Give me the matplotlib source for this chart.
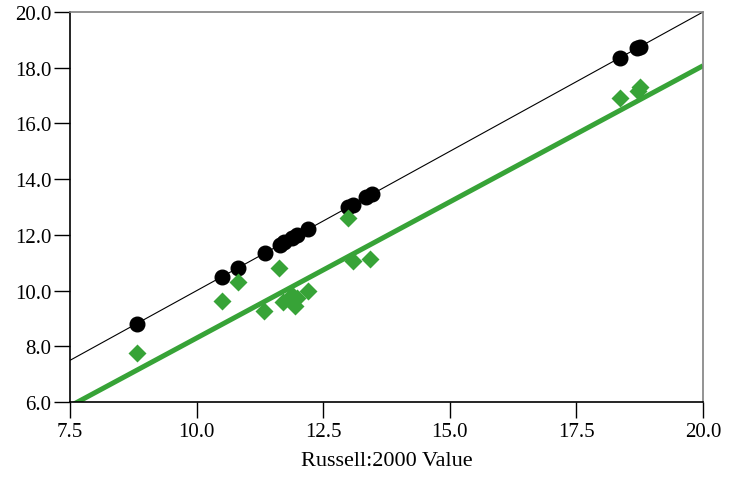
import numpy as np
import matplotlib
matplotlib.use('Agg')
import matplotlib.pyplot as plt

plt.rcParams['font.family'] = ['Liberation Serif', 'DejaVu Serif']
plt.rcParams['font.size'] = 15

# %% data
russell = [8.82, 10.50, 10.82, 11.35, 11.65, 11.73, 11.88, 11.98, 12.20,
           12.99, 13.09, 13.35, 13.46, 18.36, 18.70, 18.76]
model_x = [8.82, 10.50, 10.82, 11.33, 11.62, 11.70, 11.88, 11.98, 11.94,
           12.20, 12.99, 13.08, 13.42, 18.36, 18.72, 18.76]
model_y = [7.75, 9.64, 10.32, 9.26, 10.80, 9.58, 9.86, 9.72, 9.46,
           10.00, 12.60, 11.06, 11.12, 16.90, 17.18, 17.30]
fit_slope, fit_icpt = 0.977, -1.47

green = '#37a337'

fig, ax = plt.subplots(figsize=(7.38, 4.81), dpi=100)
fig.subplots_adjust(left=0.095, right=0.9526, top=0.973, bottom=0.162)

xs = np.array([7.5, 20.0])
ax.plot(xs, xs, color='black', lw=0.8, zorder=2)
ax.plot(xs, fit_slope * xs + fit_icpt, color=green, lw=3.6, zorder=2,
        solid_capstyle='butt')
ax.plot(russell, russell, 'o', color='black', ms=10.5, zorder=3)
ax.plot(model_x, model_y, 'D', color=green, ms=9.5, mec='none', zorder=4)

ax.set_xlim(7.5, 20.0)
ax.set_ylim(6.0, 20.0)
ax.set_xticks(np.arange(7.5, 20.01, 2.5))
ax.set_yticks(np.arange(6, 20.01, 2))
ax.xaxis.set_major_formatter('{x:.1f}')
ax.yaxis.set_major_formatter('{x:.1f}')
ax.tick_params(direction='out', length=11.5, width=1)
ax.tick_params(axis='x', pad=3)
ax.tick_params(axis='y', pad=2)
ax.set_xlabel('Russell:2000 Value', fontsize=16, labelpad=7)

for s in ['top', 'right']:
    ax.spines[s].set_color('#808080')
for s in ax.spines.values():
    s.set_linewidth(1.2)

fig.savefig('out.png', dpi=100)
